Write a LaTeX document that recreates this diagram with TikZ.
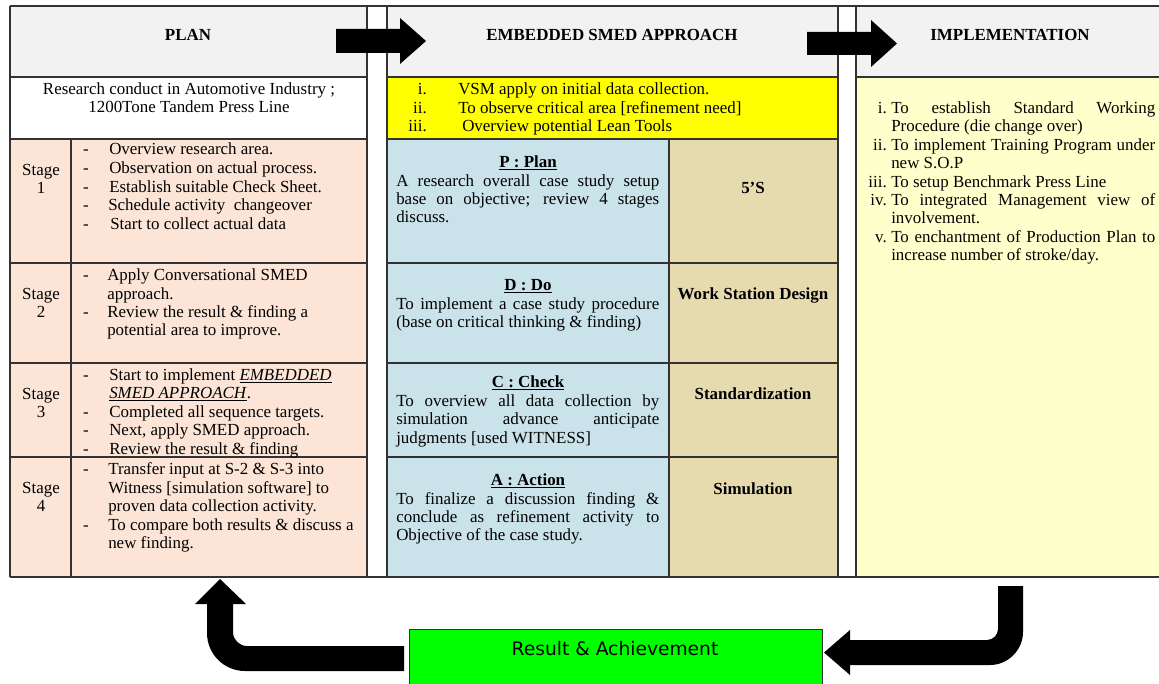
\documentclass[tikz,border=0pt]{standalone}
\usepackage{fontspec}
\setmainfont{Liberation Serif}
\newfontfamily\greenfont{DejaVu Sans}
\newlength\pxu \setlength\pxu{0.75pt}
\newcommand\bodyf{\fontsize{12.7pt}{13.9pt}\selectfont}
\newcommand\jb[2]{\makebox[#1\pxu][s]{#2}}
\definecolor{hdr}{RGB}{242,242,242}
\definecolor{peach}{RGB}{252,229,214}
\definecolor{blu}{RGB}{202,226,233}
\definecolor{tanc}{RGB}{230,219,174}
\definecolor{lyel}{RGB}{255,255,204}
\definecolor{yel}{RGB}{255,255,0}
\definecolor{grn}{RGB}{0,255,0}
\definecolor{linec}{RGB}{50,50,50}
\tikzset{
  grid/.style={draw=linec, line width=1pt},
  txt/.style={font=\bodyf, inner sep=0pt, anchor=base west},
  ctr/.style={font=\bodyf, inner sep=0pt, anchor=base},
  ctrb/.style={font=\bodyf\bfseries, inner sep=0pt, anchor=base},
  num/.style={font=\bodyf, inner sep=0pt, anchor=base east},
  blockarrow/.style={fill=black},
  greenbox/.style={draw=linec, line width=1pt, fill=grn}
}
\begin{document}
\begin{tikzpicture}[x=0.75pt,y=-0.75pt]
\useasboundingbox (0,0) rectangle (1159,684);
% ---------- fills
\fill[hdr] (10,6) rectangle (367,77);
\fill[white] (10,77) rectangle (367,139);
\fill[peach] (10,139) rectangle (367,577);
\fill[hdr] (387,6) rectangle (838,77);
\fill[yel] (387,77) rectangle (838,139);
\fill[blu] (387,139) rectangle (669,577);
\fill[tanc] (669,139) rectangle (838,577);
\fill[hdr] (856,6) rectangle (1160,77);
\fill[lyel] (856,77) rectangle (1160,577);
% ---------- grid lines
\draw[grid] (10,6) -- (1160,6);
\draw[grid] (10,577) -- (1160,577);
\foreach \x in {10,367,387,838,856} \draw[grid] (\x,6) -- (\x,577);
\draw[grid] (71,139) -- (71,577);
\draw[grid] (669,139) -- (669,577);
\draw[grid] (10,77) -- (367,77);
\draw[grid] (387,77) -- (838,77);
\draw[grid] (856,77) -- (1160,77);
\draw[grid] (10,139) -- (367,139);
\draw[grid] (387,139) -- (838,139);
\foreach \y in {263,363,457} {
  \draw[grid] (10,\y) -- (367,\y);
  \draw[grid] (387,\y) -- (838,\y);
}
% ---------- top block arrows
\fill[blockarrow] (336,29) -- (400,29) -- (400,18) -- (426,41) -- (400,64) -- (400,53) -- (336,53) -- cycle;
\fill[blockarrow] (807,32) -- (871,32) -- (871,20) -- (897,43.5) -- (871,67) -- (871,55) -- (807,55) -- cycle;
\begin{scope}[shift={(0,2.5)}]
% ---------- headers
\node[ctrb] (hplan) at (188,38) {PLAN};
\node[ctrb] (hsmed) at (612,38) {EMBEDDED SMED APPROACH};
\node[ctrb] (himp) at (1010,38) {IMPLEMENTATION};
% ---------- research
\node[ctr] (res1) at (189,92) {Research conduct in Automotive Industry ;};
\node[ctr] (res2) at (189,110) {1200Tone Tandem Press Line};
% ---------- stage labels
\foreach \n/\y in {1/173,2/297,3/397,4/491} {
  \node[ctr] (stg\n) at (41,\y) {Stage};
  \node[ctr] (stn\n) at (41,\y+18) {\n};
}
% ---------- dashes
\foreach \y [count=\i] in {152,171,190,208,227,278,315,378,415,433,452,472,528}
  \node[ctr] (dash\i) at (86,\y) {-};
% ---------- stage texts
\node[txt] (s1a) at (109,152) {Overview research area.};
\node[txt] (s1b) at (109,171) {Observation on actual process.};
\node[txt] (s1c) at (109,190) {Establish suitable Check Sheet.};
\node[txt] (s1d) at (108,208) {Schedule activity\ \ changeover};
\node[txt] (s1e) at (110,227) {Start to collect actual data};
\node[txt] (s2a) at (107,278) {Apply Conversational SMED};
\node[txt] (s2b) at (107,297) {approach.};
\node[txt] (s2c) at (107,315) {Review the result \& finding a};
\node[txt] (s2d) at (107,333) {potential area to improve.};
\node[txt] (s3a) at (109,378) {Start to implement \underline{\textit{EMBEDDED}}};
\node[txt] (s3b) at (109,396) {\underline{\textit{SMED APPROACH}}.};
\node[txt] (s3c) at (109,415) {Completed all sequence targets.};
\node[txt] (s3d) at (109,433) {Next, apply SMED approach.};
\node[txt] (s3e) at (109,452) {Review the result \& finding};
\node[txt] (s4a) at (108,472) {Transfer input at S-2 \& S-3 into};
\node[txt] (s4b) at (108,491) {Witness [simulation software] to};
\node[txt] (s4c) at (108,509) {proven data collection activity.};
\node[txt] (s4d) at (108,528) {To compare both results \& discuss a};
\node[txt] (s4e) at (108,546) {new finding.};
% ---------- yellow box
\node[num] (yn1) at (427,92) {i.};
\node[num] (yn2) at (427,111) {ii.};
\node[num] (yn3) at (427,129) {iii.};
\node[txt] (y1) at (458,92) {VSM apply on initial data collection.};
\node[txt] (y2) at (458,111) {To observe critical area [refinement need]};
\node[txt] (y3) at (462,129) {Overview potential Lean Tools};
% ---------- PDCA cells
\node[ctrb] (pp) at (528,165) {\underline{P : Plan}};
\node[txt] (p1) at (396,184) {\jb{263}{A research overall case study setup}};
\node[txt] (p2) at (396,202) {\jb{263}{base on objective; review 4 stages}};
\node[txt] (p3) at (396,220) {discuss.};
\node[ctrb] (dd) at (528,288) {\underline{D : Do}};
\node[txt] (d1) at (396,307) {\jb{263}{To implement a case study procedure}};
\node[txt] (d2) at (396,325) {(base on critical thinking \& finding)};
\node[ctrb] (cc) at (528,385) {\underline{C : Check}};
\node[txt] (c1) at (396,404) {\jb{263}{To overview all data collection by}};
\node[txt] (c2) at (396,422) {\jb{263}{simulation advance anticipate}};
\node[txt] (c3) at (396,441) {judgments [used WITNESS]};
\node[ctrb] (aa) at (528,483) {\underline{A : Action}};
\node[txt] (a1) at (396,502) {\jb{263}{To finalize a discussion finding \&}};
\node[txt] (a2) at (396,520) {\jb{263}{conclude as refinement activity to}};
\node[txt] (a3) at (396,538) {Objective of the case study.};
% ---------- lean tools
\node[ctrb] (t1) at (753,191) {5’S};
\node[ctrb] (t2) at (753,297) {Work Station Design};
\node[ctrb] (t3) at (753,397) {Standardization};
\node[ctrb] (t4) at (753,492) {Simulation};
% ---------- implementation
\node[num] (in1) at (887,111) {i.};
\node[num] (in2) at (887,148) {ii.};
\node[num] (in3) at (887,185) {iii.};
\node[num] (in4) at (887,203) {iv.};
\node[num] (in5) at (887,240) {v.};
\node[txt] (i1a) at (891,111) {\jb{264}{To establish Standard Working}};
\node[txt] (i1b) at (891,129) {Procedure (die change over)};
\node[txt] (i2a) at (891,148) {\jb{264}{To implement Training Program under}};
\node[txt] (i2b) at (891,166) {new S.O.P};
\node[txt] (i3a) at (891,185) {To setup Benchmark Press Line};
\node[txt] (i4a) at (891,203) {\jb{264}{To integrated Management view of}};
\node[txt] (i4b) at (891,221) {involvement.};
\node[txt] (i5a) at (891,240) {\jb{264}{To enchantment of Production Plan to}};
\node[txt] (i5b) at (891,258) {increase number of stroke/day.};
\end{scope}
% ---------- result box
\node[greenbox, anchor=north west, inner sep=0pt, minimum width=413\pxu, minimum height=62\pxu] (result) at (409,629) {};
\node[font=\greenfont\fontsize{14pt}{16pt}\selectfont, inner sep=0pt] (restxt) at (615,649) {Result \& Achievement};
% ---------- return arrows
\fill[blockarrow] (404,646) -- (247,646) .. controls (239.3,646) and (233,639.7) .. (233,632) -- (233,604) -- (246,604) -- (220,579) -- (195,604) -- (207,604) -- (207,633) .. controls (207,654) and (224,671) .. (245,671) -- (404,671) -- cycle;
\fill[blockarrow] (998,586) -- (1023,586) -- (1023,632) .. controls (1023,650) and (1008,665) .. (990,665) -- (850,665) -- (850,675) -- (824,652.5) -- (850,630) -- (850,640) -- (987,640) .. controls (993,640) and (998,635) .. (998,629) -- cycle;
\end{tikzpicture}
\end{document}
